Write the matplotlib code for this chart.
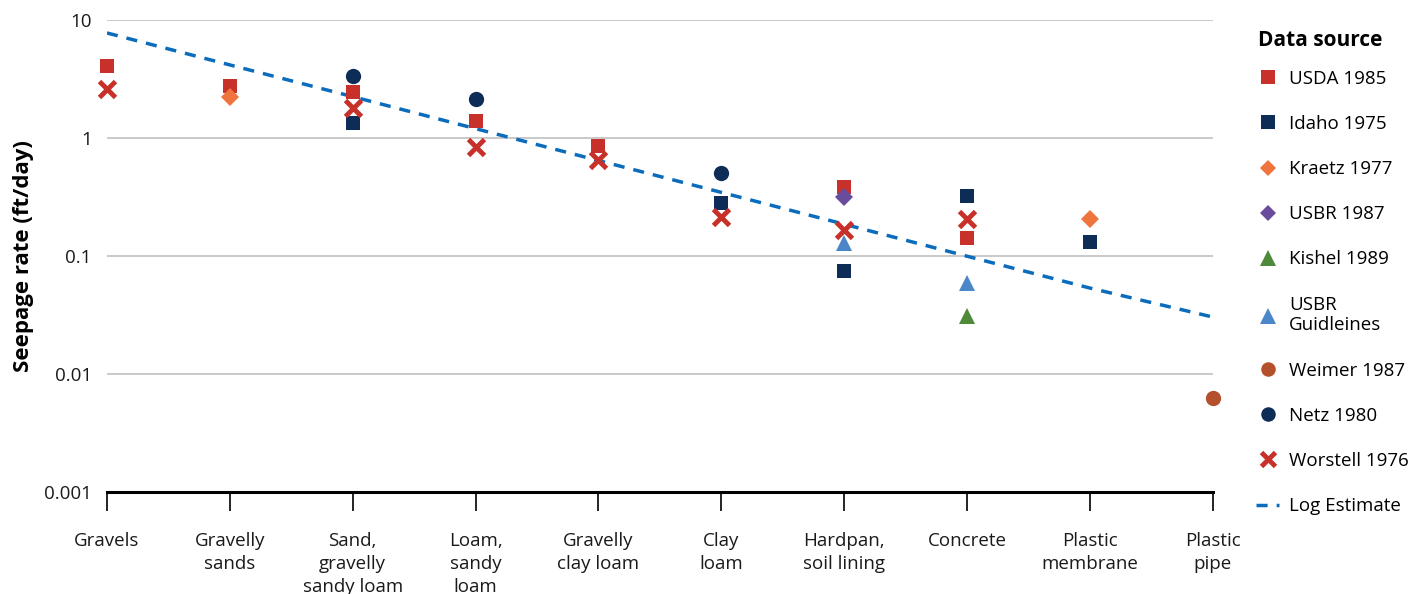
import matplotlib.pyplot as plt
from matplotlib.lines import Line2D

plt.rcParams['font.family'] = ['Open Sans', 'DejaVu Sans']

# categories (x axis)
categories = ["Gravels", "Gravelly\nsands", "Sand,\ngravelly\nsandy loam", "Loam,\nsandy\nloam",
              "Gravelly\nclay loam", "Clay\nloam", "Hardpan,\nsoil lining", "Concrete",
              "Plastic\nmembrane", "Plastic\npipe"]
C = categories

# seepage rates (ft/day) by data source
usda_cat = [C[0], C[1], C[2], C[3], C[4], C[6], C[7]]
usda_val = [4.1, 2.77, 2.47, 1.40, 0.86, 0.387, 0.142]
idaho_cat = [C[2], C[5], C[6], C[7], C[8]]
idaho_val = [1.35, 0.279, 0.075, 0.324, 0.132]
kraetz_cat = [C[1], C[8]]
kraetz_val = [2.21, 0.206]
usbr87_cat = [C[6]]
usbr87_val = [0.318]
kishel_cat = [C[7]]
kishel_val = [0.031]
usbrg_cat = [C[6], C[7]]
usbrg_val = [0.128, 0.0586]
weimer_cat = [C[9]]
weimer_val = [0.0062]
netz_cat = [C[2], C[3], C[5]]
netz_val = [3.37, 2.13, 0.508]
worstell_cat = [C[0], C[2], C[3], C[4], C[5], C[6], C[7]]
worstell_val = [2.6, 1.81, 0.834, 0.651, 0.213, 0.166, 0.205]
log_estimate = [7.76, 4.16, 2.24, 1.20, 0.644, 0.346, 0.186, 0.0996, 0.0535, 0.0304]

yticks = [0.001, 0.01, 0.1, 1, 10]
ytick_labels = ["0.001", "0.01", "0.1", "1", "10"]

red = "#c8302a"
navy = "#0d2d57"

fig = plt.figure(figsize=(14.24, 5.94), dpi=100)
ax = fig.add_axes([0.0751, 0.1717, 0.7765, 0.7947])

ax.plot(categories, log_estimate, color="#0b6cbc", lw=2.5, ls=(0, (3.2, 2.6)), zorder=2,
        label="Log Estimate")

series = [
    ("USDA 1985", usda_cat, usda_val, dict(marker="s", color=red, ms=10.5)),
    ("Idaho 1975", idaho_cat, idaho_val, dict(marker="s", color=navy, ms=10.5)),
    ("Kraetz 1977", kraetz_cat, kraetz_val, dict(marker="D", color="#f0743e", ms=9)),
    ("USBR 1987", usbr87_cat, usbr87_val, dict(marker="D", color="#6a4c9c", ms=9)),
    ("Kishel 1989", kishel_cat, kishel_val, dict(marker="^", color="#4f8a3a", ms=12)),
    ("USBR\nGuidleines", usbrg_cat, usbrg_val, dict(marker="^", color="#4a86c8", ms=12)),
    ("Weimer 1987", weimer_cat, weimer_val, dict(marker="o", color="#b5502d", ms=11)),
    ("Netz 1980", netz_cat, netz_val, dict(marker="o", color=navy, ms=11)),
    ("Worstell 1976", worstell_cat, worstell_val, dict(marker="x", color=red, ms=11, mew=3.5)),
]

handles = []
for name, cats, vals, st in series:
    ax.plot(cats, vals, ls="none", marker=st["marker"], ms=st["ms"], color=st["color"],
            mew=st.get("mew", 0), zorder=3, clip_on=False)
    handles.append(Line2D([], [], ls="none", marker=st["marker"], ms=st["ms"] * 0.95,
                          color=st["color"], mew=st.get("mew", 0), label=name))
handles.append(Line2D([], [], color="#0b6cbc", lw=2.5, ls=(0, (3.2, 2.6)), label="Log Estimate"))

ax.set_yscale("log")
ax.set_ylim(0.001, 10)
ax.set_xlim(0, 9)
ax.set_yticks(yticks)
ax.set_yticklabels(ytick_labels)
ax.minorticks_off()
ax.tick_params(axis="y", length=0, pad=11, labelsize=13.5, colors="#1a1a1a")
ax.tick_params(axis="x", length=14, width=1.2, pad=15, labelsize=13.5, colors="black",
               labelcolor="#1a1a1a")
for lab in ax.get_xticklabels():
    lab.set_linespacing(1.35)
ax.grid(axis="y", color="#c0c0c0", lw=1.2)
ax.set_axisbelow(True)
for s in ["left", "top", "right"]:
    ax.spines[s].set_visible(False)
ax.spines["bottom"].set_linewidth(2.2)
ax.set_ylabel("Seepage rate (ft/day)", fontsize=16, fontweight="bold", labelpad=7)

fig.text(0.8835, 0.932, "Data source", fontsize=15, fontweight="bold", va="center", ha="left")
leg = fig.legend(handles=handles, loc="upper left", bbox_to_anchor=(0.8705, 0.911),
                 frameon=False, fontsize=13.5,
                 handlelength=1.2, handletextpad=0.55, labelspacing=1.45)

fig.savefig("out.png", dpi=100)
